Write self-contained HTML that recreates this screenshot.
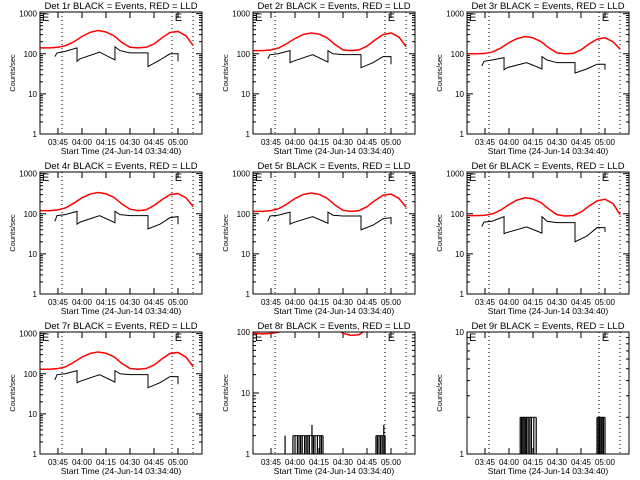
<!DOCTYPE html>
<html><head><meta charset="utf-8"><style>
html,body{margin:0;padding:0;background:#fff;}
svg{display:block;font-family:"Liberation Sans",sans-serif;}
</style></head><body>
<svg id="c" width="640" height="480" viewBox="0 0 640 480"></svg>
<script>
const tickMinutes = [45,60,75,90,105,120];
const tickLabels = ["03:45","04:00","04:15","04:30","04:45","05:00"];
const dottedMinutes = [47.5,116.25,129.4];
const eMinutes = [35,118];
const titles = ["Det 1r","Det 2r","Det 3r","Det 4r","Det 5r","Det 6r","Det 7r","Det 8r","Det 9r"];
const yMaxes = [1100,1100,1100,1100,1100,1100,1100,100,10];
const redT = [33.75,40,45,50,55,60,65,70,75,80,85,90,95,100,105,110,115,120,125,129.5];
const red1 = [140,140,145,160,200,270,340,380,350,280,190,145,140,145,175,250,340,360,280,160];
const red2 = [120,120,125,140,180,240,300,330,310,250,170,125,120,125,155,220,300,330,260,150];
const red3 = [100,100,102,112,140,190,240,270,250,200,140,105,100,102,125,175,230,250,200,130];
const red4 = [120,120,125,142,185,250,310,340,315,255,175,130,120,125,160,225,300,320,250,150];
const red5 = [115,115,120,135,175,240,300,330,305,245,165,122,115,120,150,215,290,310,240,145];
const red6 = [90,90,92,100,125,170,220,250,235,190,130,95,88,90,110,155,210,230,180,95];
const red7 = [130,130,135,150,195,260,320,350,325,265,180,135,130,135,165,235,320,340,260,150];
const red8 = [95,93,95,100,130,170,200,210,190,160,120,95,88,90,110,140,170,180,150,100];
const red9 = [40,40,42,45,55,70,90,100,95,80,60,45,40,42,50,70,90,95,75,45];
const blackT = [43,44.4,49.4,56.9,56.9,58.75,71,80.6,80.6,83.75,90,101.25,101.25,108.75,115,120,120];
const black1 = [85,105,115,140,65,75,110,70,150,120,105,105,48,70,100,100,65];
const black2 = [75,95,100,120,60,65,95,62,120,100,95,95,45,60,85,85,55];
const black3 = [50,65,70,80,40,45,60,42,85,70,60,60,33,42,55,55,40];
const black4 = [65,90,95,115,55,62,90,60,115,95,90,90,42,55,80,85,55];
const black5 = [65,88,92,110,55,60,85,58,110,92,88,88,40,52,75,80,55];
const black6 = [48,62,65,85,32,34,47,33,85,65,60,60,20,28,45,45,35];
const black7 = [70,95,100,120,60,65,95,62,120,100,95,95,45,60,85,85,55];
const spike8T = [53.8,58.7,60,61.5,62.5,63.5,64.5,66,67,68,69,70.6,71.5,72.5,74,75.5,76.5,77.5,110.6,111.5,112.5,113.5,114.5,115.5,116.3];
const spike8V = [2,2,2,2,2,2,2,2,2,2,2,3,2,2,2,2,2,2,2,2,2,2,2,3,2];
const spike9T = [67,67.8,68.6,69.4,70.2,71,72,73,74,75.5,77,115,115.8,116.6,117.4,118.2,119,120];
const spike9V = [2,2,2,2,2,2,2,2,2,2,2,2,2,2,2,2,2,2];
const reds = [red1,red2,red3,red4,red5,red6,red7,red8,red9];
const blacks = [black1,black2,black3,black4,black5,black6,black7,null,null];
const spikesT = [null,null,null,null,null,null,null,spike8T,spike9T];
const spikesV = [null,null,null,null,null,null,null,spike8V,spike9V];

const NS="http://www.w3.org/2000/svg";
const svg=document.getElementById('c');
function mk(tag,attrs,parent){const e=document.createElementNS(NS,tag);for(const k in attrs)e.setAttribute(k,attrs[k]);parent.appendChild(e);return e;}
const L=40,R=202,T=12,B=134,M0=33.75,M1=135;
for(let p=0;p<9;p++){
  const ox=Math.round(213.33*(p%3)), oy=160*Math.floor(p/3);
  const g=mk('g',{transform:`translate(${ox},${oy})`},svg);
  
  
  const ymax=yMaxes[p];
  const xs=m=>L+(m-M0)/(M1-M0)*(R-L);
  const ys=v=>B-Math.log10(v)/Math.log10(ymax)*(B-T);
  const cp=mk('clipPath',{id:'cp'+p},g);
  mk('rect',{x:L,y:T,width:R-L,height:B-T},cp);
  const t=mk('text',{x:(L+R)/2,y:9,'text-anchor':'middle','font-size':'9.5'},g);
  t.textContent=titles[p]+" BLACK = Events, RED = LLD";
  
  
  const yl=mk('text',{x:0,y:0,'text-anchor':'middle','font-size':'7.5',transform:`translate(15,${(T+B)/2}) rotate(-90)`},g);
  yl.textContent="Counts/sec";
  
  
  const xl=mk('text',{x:(L+R)/2,y:154,'text-anchor':'middle','font-size':'8.5'},g);
  xl.textContent="Start Time (24-Jun-14 03:34:40)";
  
  
  const dec=Math.round(Math.log10(ymax));
  for(let d=0;d<=dec;d++){
    const v=Math.pow(10,d);
    if(v>ymax*1.01) break;
    const y=ys(v);
    mk('line',{x1:L,x2:L+6,y1:y,y2:y,stroke:'#000'},g);
    mk('line',{x1:R,x2:R-6,y1:y,y2:y,stroke:'#000'},g);
    const tl=mk('text',{x:37,y:y+3,'text-anchor':'end','font-size':'8'},g);
    tl.textContent=String(v);
    
    
    for(let k=2;k<10;k++){const vv=v*k;if(vv>ymax)break;const yy=ys(vv);
      mk('line',{x1:L,x2:L+3,y1:yy,y2:yy,stroke:'#000'},g);
      mk('line',{x1:R,x2:R-3,y1:yy,y2:yy,stroke:'#000'},g);}
  }
  tickMinutes.forEach((m,i)=>{const x=xs(m);
    mk('line',{x1:x,x2:x,y1:B,y2:B-6,stroke:'#000'},g);
    mk('line',{x1:x,x2:x,y1:T,y2:T+6,stroke:'#000'},g);
    const xt=mk('text',{x:x,y:145,'text-anchor':'middle','font-size':'8'},g);
    xt.textContent=tickLabels[i];
    
    });
  dottedMinutes.forEach(m=>{const x=xs(m);
    const dl=mk('line',{x1:x,x2:x,y1:T,y2:B,stroke:'#000','stroke-dasharray':'1,3'},g);
    
    });
  eMinutes.forEach(m=>{const e=mk('text',{x:xs(m),y:T+9,'font-size':'11'},g);e.textContent="E";
    
    });
  const rp=mk('polyline',{points:redT.map((m,i)=>xs(m)+','+ys(reds[p][i])).join(' '),fill:'none',stroke:'#ff0000','stroke-width':'1.5','clip-path':`url(#cp${p})`},g);
  
  
  if(blacks[p]){
    const bp=mk('polyline',{points:blackT.map((m,i)=>xs(m)+','+ys(blacks[p][i])).join(' '),fill:'none',stroke:'#000','stroke-width':'1','clip-path':`url(#cp${p})`},g);
    
    
  } else {
    const ts=spikesT[p], vs=spikesV[p];
    ts.forEach((m,i)=>{
      const sl=mk('line',{x1:xs(m),x2:xs(m),y1:ys(1),y2:ys(vs[i]),stroke:'#000','stroke-width':'1.2'},g);
      
      
      if(i<ts.length-1 && ts[i+1]-m<1.7){
        mk('line',{x1:xs(m),x2:xs(ts[i+1]),y1:ys(2),y2:ys(2),stroke:'#000'},g);}
    });
  }
  const fr=mk('rect',{x:L,y:T,width:R-L,height:B-T,fill:'none',stroke:'#000'},g);
  
  
}
</script>
</body></html>
